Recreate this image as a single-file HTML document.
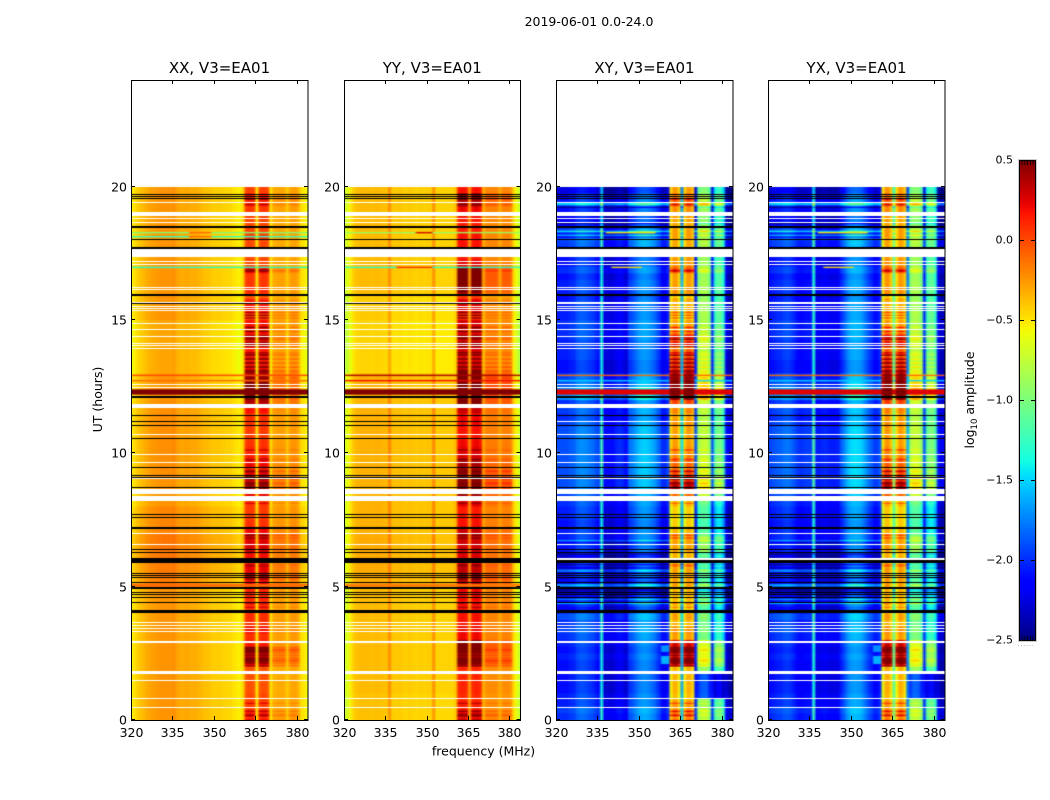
<!DOCTYPE html>
<html>
<head>
<meta charset="utf-8">
<title>2019-06-01 0.0-24.0</title>
<style>
html,body{margin:0;padding:0;background:#fff;}
#figure{position:relative;width:1050px;height:800px;overflow:hidden;background:#fff;font-family:"DejaVu Sans","Liberation Sans",sans-serif;}
canvas{position:absolute;top:80px;height:640px;}
svg{position:absolute;left:0;top:0;}
text{font-family:"DejaVu Sans","Liberation Sans",sans-serif;fill:#000;}
</style>
</head>
<body>
<div id="figure">
<canvas id="c0"></canvas>
<canvas id="c1"></canvas>
<canvas id="c2"></canvas>
<canvas id="c3"></canvas>
<svg id="overlay" width="1050" height="800">
<defs><linearGradient id="jetGrad" x1="0" y1="1" x2="0" y2="0"></linearGradient></defs>
<text x="589" y="26" font-size="12.5" text-anchor="middle">2019-06-01 0.0-24.0</text>
<text x="483.5" y="755.5" font-size="12.5" text-anchor="middle">frequency (MHz)</text>
<text transform="translate(102,399.5) rotate(-90)" font-size="12.5" text-anchor="middle">UT (hours)</text>
<text transform="translate(974,400) rotate(-90)" font-size="12.5" text-anchor="middle">log<tspan font-size="8.5" dy="3">10</tspan><tspan dy="-3"> amplitude</tspan></text>
<text x="1026" y="646" font-size="7" text-anchor="middle" style="fill:#999;letter-spacing:0.6px">......</text>
</svg>
</div>
<script>
/* ---------- axis data ---------- */
const panelTitles = ["XX, V3=EA01","YY, V3=EA01","XY, V3=EA01","YX, V3=EA01"];
const xTicks = [320,335,350,365,380];
const yTicks = [0,5,10,15,20];
const cbarTicks = [-2.5,-2.0,-1.5,-1.0,-0.5,0.0,0.5];
const freqChannels = [320,321,322,323,324,325,326,327,328,329,330,331,332,333,334,335,336,337,338,339,340,341,342,343,344,345,346,347,348,349,350,351,352,353,354,355,356,357,358,359,360,361,362,363,364,365,366,367,368,369,370,371,372,373,374,375,376,377,378,379,380,381,382,383];

/* ---------- per-channel baseline log10 amplitude ---------- */
const baseXX = [-.52,-.48,-.42,-.38,-.36,-.32,-.3,-.28,-.27,-.26,-.25,-.24,-.24,-.24,-.25,-.22,-.28,-.3,-.32,-.3,-.3,-.32,-.32,-.32,-.34,-.36,-.38,-.38,-.4,-.42,-.42,-.42,-.43,-.44,-.45,-.45,-.47,-.5,-.52,-.54,-.45,-.15,-.1,-.1,-.15,-.52,-.15,-.1,-.1,-.15,-.5,-.38,-.36,-.34,-.34,-.36,-.42,-.35,-.32,-.32,-.38,-.48,-.5,-.56];
const baseYY = [-.75,-.65,-.55,-.46,-.42,-.41,-.4,-.4,-.4,-.41,-.41,-.4,-.4,-.41,-.42,-.42,-.25,-.44,-.45,-.45,-.44,-.46,-.47,-.45,-.46,-.47,-.48,-.46,-.47,-.47,-.46,-.47,-.25,-.48,-.48,-.48,-.48,-.48,-.48,-.48,-.42,-.1,-.05,-.05,-.1,-.3,-.1,-.05,-.05,-.1,-.38,-.32,-.3,-.3,-.3,-.32,-.36,-.32,-.3,-.3,-.34,-.5,-.62,-.76];
const baseXY = [-2.0,-2.0,-2.0,-2.0,-1.98,-1.95,-1.95,-1.85,-1.82,-1.8,-1.82,-1.85,-1.88,-1.92,-1.98,-2.02,-1.3,-2.2,-2.2,-2.2,-2.2,-2.15,-2.1,-2.1,-2.15,-2.2,-1.9,-1.85,-1.78,-1.7,-1.65,-1.62,-1.62,-1.65,-1.7,-1.75,-1.85,-1.95,-2.1,-2.1,-2.0,-.65,-.42,-.42,-.62,-1.55,-.62,-.42,-.42,-.58,-2.0,-1.0,-.88,-.86,-.86,-1.05,-2.0,-1.3,-1.15,-1.15,-1.35,-2.15,-2.3,-2.3];
const baseYX = [-2.05,-2.0,-1.98,-1.95,-1.95,-1.9,-1.88,-1.88,-1.92,-1.98,-2.05,-2.08,-2.08,-2.05,-2.05,-2.05,-1.25,-2.15,-2.15,-2.12,-2.1,-2.12,-2.15,-2.15,-2.15,-2.12,-1.95,-1.85,-1.72,-1.62,-1.58,-1.56,-1.58,-1.6,-1.68,-1.78,-1.88,-1.95,-2.05,-2.05,-1.95,-.7,-.4,-.4,-.58,-1.05,-.65,-.42,-.42,-.6,-1.7,-.98,-.85,-.85,-.88,-1.05,-2.0,-1.25,-1.12,-1.12,-1.3,-2.15,-2.3,-2.3];
/* how strongly each channel follows the activity level */
const bandWeight = [0,0,0,0,0,0,0,0,0,0,0,0,0,0,0,0,0,0,0,0,0,0,0,0,0,0,0,0,0,0,0,0,0,0,0,0,0,0,0,0,0,1,1,1,1,.05,1,1,1,1,.05,.35,.35,.35,.35,.35,.05,.35,.35,.35,.35,0,0,0];

/* ---------- activity per quarter-hour bin, 0..20 h ---------- */
const activityXX = [.6,.5,.35,.3,.25,.25,.25,.25,.9,1,1,.55,.45,.6,.45,.45,.4,.45,.5,.5,.5,.75,.55,.4,.45,.6,.55,.55,.55,.35,.3,.3,.4,.65,.9,.9,.85,.7,.6,.5,.45,.4,.35,.35,.4,.4,.55,.8,1,1,.95,.85,.9,.8,.8,.6,.9,.85,.7,.65,.6,.55,.55,.45,.45,.4,.4,.6,.3,.3,.3,.3,.4,.35,.3,.35,.4,.5,.55,.35];
const activityYY = [.7,.55,.4,.35,.35,.35,.35,.35,1,1,1,.9,.5,.5,.45,.45,.45,.45,.5,.5,.6,.8,.6,.45,.5,.55,.55,.6,.6,.4,.4,.35,.5,.75,1,1,1,.9,.7,.55,.5,.45,.4,.4,.45,.45,.6,.85,1,1,1,.9,.95,.85,.8,.7,.85,.85,.75,.7,.65,.6,.65,.55,.85,.9,.95,.9,.55,.4,.45,.45,.45,.4,.4,.45,.5,.7,.85,.45];
const activityCross = [.5,.45,.3,.15,.2,.2,.2,.2,1,1,1,.8,.3,.35,.2,.3,.1,.15,.2,.2,.3,.3,.3,.2,.2,.3,.3,.3,.2,.05,0,0,.2,.5,.95,.85,.75,.6,.5,.4,.35,.3,.3,.3,.35,.3,.4,.6,1,1,1,.9,.85,.8,.7,.5,.75,.7,.4,.3,.25,.25,.25,.3,.35,.3,.3,.5,.35,.3,.25,.25,.3,.3,.25,.3,.35,.5,.45,.3];
/* background level of the cross-hand panels per quarter-hour bin */
const crossLevel = [0,.05,-.05,-.05,-.1,-.1,-.1,-.1,-.1,-.05,-.1,-.05,0,.05,0,.1,-.2,-.1,-.25,-.35,-.2,-.1,-.3,-.1,-.3,-.1,-.2,-.05,-.05,-.1,-.05,-.05,0,.05,.1,.1,.1,.1,.1,.1,.1,.1,.1,.1,.05,0,.05,0,.3,.3,.1,.05,-.1,-.1,-.05,-.05,-.05,0,0,0,-.05,-.05,-.05,-.1,-.05,-.05,-.1,0,-.1,-.1,-.1,.05,-.1,.05,-.15,-.2,-.1,-.05,-.1,-.25];
/* hourly broadband level of the parallel-hand panels */
const levelXX = [0,0,0,0,0,.08,.1,.05,0,.02,.02,.02,0,-.05,-.05,0,0,0,0,0];
const levelYY = [.02,.04,.04,.04,.04,.09,.09,.07,.07,.07,.07,.07,.07,-.04,-.04,-.01,.04,.04,.04,.04];

/* ---------- individual rows (hours) ---------- */
const hotRows = [.15,.3,.6,2.2,2.6,4.2,4.35,5.75,5.8,6.8,6.9,8.1,8.85,9,9.3,9.75,10.1,12.8,13.05,13.2,13.35,13.5,13.65,13.75,14,14.25,14.35,14.55,14.7,15.05,15.15,15.25,16.8,16.85,19.3,19.5];
const calmRows = [.05,.4,2.05,2.35,2.45,13.15,13.3,13.45,13.6,14.2,14.45,14.6,15,15.1,15.2,15.8,15.85,9.4,9.2,8.95];
const crossBright = [19.35,19.3,18.3,18.15,18,5.05,5,6.55,6.7,4.35,4.5,5.6,5.55];
const crossDim = [19.2,18.6,18.45,4.75,4.85,5.3,5.8,6.2];

/* broadband events: start hour, end hour, value in XX, YY, XY, YX */
const rfiStart = [12.19,12.88,12.7,18.22,18.08,16.95,5,12.28];
const rfiEnd   = [12.37,12.94,12.74,18.26,18.12,17,5.1,12.32];
const rfiXX = [.5,0,-.1,-1,-1.3,-1.3,-.1,.5];
const rfiYY = [.5,.4,.2,-.9,null,-1.3,-.15,.5];
const rfiXY = [.25,-.1,-1.5,null,null,null,null,-1];
const rfiYX = [.25,-.1,-1.5,null,null,null,null,-1];

/* local patches: panel, start hour, end hour, first MHz, last MHz, value */
const patchPanel = [2,3,2,3,0,0,1,2,3,2,3,1];
const patchStart = [2.1,2.1,2.55,2.55,18.08,18.22,18.22,18.22,18.22,16.95,16.95,16.95];
const patchEnd   = [2.4,2.4,2.8,2.8,18.12,18.26,18.26,18.27,18.27,17,17,17];
const patchLow   = [358,358,358,358,341,341,346,338,338,340,340,339];
const patchHigh  = [360,360,360,360,348,348,351,355,355,350,350,351];
const patchValue = [-1.6,-1.6,-1.7,-1.7,-.1,-.1,.3,-.5,-.5,-.5,-.5,.1];

/* C/D sub-band drops in cross-hand panels: start, end, offset */
const cdStart = [.8,6.9,3];
const cdEnd = [1.8,8.2,6.1];
const cdDrop = [-.95,-.25,-.2];

/* ---------- flagged rows ---------- */
const blackLines = [19.71,19.65,19.56,18.02,15.62,11.44,11.21,11.05,10.56,9.48,9.19,9.12,8.73,7.71,7.6,6.4,6.3,5.52,5.44,5.35,5.16,4.81,4.72,4.62,4.44,2.97];
const blackBandStart = [18.46,17.67,15.9,12.08,7.17,5.9,4.91,4.03];
const blackBandEnd = [18.54,17.73,15.98,12.16,7.25,6.06,4.99,4.13];
const whiteLines = [19.43,18.81,18.68,17.22,17.1,16.25,16.15,15.68,15.52,15.46,15.37,14.87,14.66,14.4,14.15,14.06,13.94,12.6,12.5,10.71,9.97,9.66,9.06,7,6.59,3.66,3.56,3.46,3.35,1.5,.84,.48];
const whiteBandStart = [18.9,17.35,11.7,8.46,8.22,2.88,1.74];
const whiteBandEnd = [19.06,17.65,11.85,8.66,8.4,2.95,1.84];
const crossWhiteLines = [15.62,11.21,6.08,6.03,2.97];

/* ---------- geometry and scales ---------- */
const axLeft = [131,344,556,768];
const axRight = [308,520.5,733,945];
const axTop = 80, axBottom = 720;
const fMin = 320, fMax = 384, tMin = 0, tMax = 24;
const vMin = -2.5, vMax = 0.5;
const dataEndHour = 20, rowStep = 0.05, binStep = 0.25;
function xScale(p,f){return axLeft[p]+(f-fMin)/(fMax-fMin)*(axRight[p]-axLeft[p]);}
function yScale(t){return axBottom-(t-tMin)/(tMax-tMin)*(axBottom-axTop);}
function cbScale(v){return 640-(v-vMin)/(vMax-vMin)*480;}

function jet(n){
  n=Math.max(0,Math.min(1,n));
  function ramp(pts){for(let i=1;i<pts.length;i++){if(n<=pts[i][0]){const a=pts[i-1],b=pts[i];return a[1]+(b[1]-a[1])*(n-a[0])/(b[0]-a[0]);}}return pts[pts.length-1][1];}
  const r=ramp([[0,0],[.35,0],[.66,1],[.89,1],[1,.5]]);
  const g=ramp([[0,0],[.125,0],[.375,1],[.64,1],[.91,0],[1,0]]);
  const b=ramp([[0,.5],[.11,1],[.34,1],[.65,0],[1,0]]);
  return 'rgb('+Math.round(r*255)+','+Math.round(g*255)+','+Math.round(b*255)+')';
}
function near(list,t){for(let i=0;i<list.length;i++){if(Math.abs(list[i]-t)<rowStep/2+1e-6)return true;}return false;}

const bases=[baseXX,baseYY,baseXY,baseYX];
const rfiSets=[rfiXX,rfiYY,rfiXY,rfiYX];

function cellValue(p,t,c){
  const bin=Math.min(Math.floor(t/binStep),79);
  const hour=Math.min(Math.floor(t),19);
  const w=bandWeight[c], f=freqChannels[c];
  for(let k=0;k<patchPanel.length;k++){
    if(patchPanel[k]===p&&t>=patchStart[k]&&t<patchEnd[k]&&f>=patchLow[k]&&f<=patchHigh[k])return patchValue[k];
  }
  for(let k=0;k<rfiStart.length;k++){
    if(t>=rfiStart[k]&&t<rfiEnd[k]&&rfiSets[p][k]!==null){
      const rv=rfiSets[p][k];
      return (p>=2&&w>=.9)?Math.max(rv,.5):rv;
    }
  }
  let v=bases[p][c], act;
  if(p<2){
    act=(p===0?activityXX:activityYY)[bin];
    if(near(hotRows,t))act+=.3;
    if(near(calmRows,t))act-=.25;
    v+=(p===0?levelXX:levelYY)[hour]+Math.pow(Math.max(act,0),1.5)*w*.65;
  }else{
    act=activityCross[bin];
    if(near(hotRows,t))act+=.3;
    if(near(calmRows,t))act-=.2;
    let lv=crossLevel[bin];
    if(near(crossBright,t))lv+=.5;
    if(near(crossDim,t))lv-=.4;
    v+=lv*(1-w)+Math.pow(Math.max(act,0),1.5)*w*1.0;
    if(w>.1&&w<.9){
      for(let k=0;k<cdStart.length;k++){if(t>=cdStart[k]&&t<cdEnd[k])v+=cdDrop[k];}
    }
  }
  return v;
}

function drawPanel(p){
  const cv=document.getElementById('c'+p);
  const W=Math.round(axRight[p]-axLeft[p]);
  cv.width=W;cv.height=640;
  cv.style.left=axLeft[p]+'px';
  cv.style.width=W+'px';
  const ctx=cv.getContext('2d');
  ctx.fillStyle='#fff';ctx.fillRect(0,0,W,640);
  const rows=Math.round(dataEndHour/rowStep);
  const cols=freqChannels.length;
  /* one offscreen pixel per time-frequency cell, resampled smoothly onto the axes */
  const off=document.createElement('canvas');
  off.width=cols;off.height=rows;
  const oc=off.getContext('2d');
  for(let r=0;r<rows;r++){
    const t=r*rowStep;
    for(let c=0;c<cols;c++){
      oc.fillStyle=jet((cellValue(p,t,c)-vMin)/(vMax-vMin));
      oc.fillRect(c,rows-1-r,1,1);
    }
  }
  ctx.imageSmoothingEnabled=true;
  const x0=xScale(p,fMin)-axLeft[p];
  const x1=xScale(p,fMax)-axLeft[p];
  const yT=yScale(dataEndHour)-axTop;
  const yB=yScale(0)-axTop;
  ctx.drawImage(off,0,0,cols,rows,x0,yT,x1-x0,yB-yT);
  function band(a,b,col){
    const ya=Math.round(yScale(b))-axTop, yb=Math.round(yScale(a))-axTop;
    ctx.fillStyle=col;ctx.fillRect(0,ya,W,Math.max(yb-ya,1));
  }
  function line(t,col){
    ctx.fillStyle=col;ctx.fillRect(0,Math.round(yScale(t))-axTop,W,1);
  }
  blackLines.forEach(t=>line(t,'#000'));
  blackBandStart.forEach((s,i)=>band(s,blackBandEnd[i],'#000'));
  whiteLines.forEach(t=>line(t,'#fff'));
  whiteBandStart.forEach((s,i)=>band(s,whiteBandEnd[i],'#fff'));
  if(p>=2)crossWhiteLines.forEach(t=>line(t,'#fff'));
}

/* ---------- vector overlay ---------- */
const NS='http://www.w3.org/2000/svg';
const svg=document.getElementById('overlay');
function mk(tag,parent){const e=document.createElementNS(NS,tag);(parent||svg).appendChild(e);return e;}
function setAll(e,o){for(const k in o)e.setAttribute(k,o[k]);}

function drawAxes(p){
  const L=axLeft[p],R=axRight[p];
  const frame=mk('rect');
  setAll(frame,{x:L+.5,y:axTop+.5,width:R-L-.5,height:axBottom-axTop,fill:'none',stroke:'#000','stroke-width':1});
  
  

  const title=mk('text');
  setAll(title,{x:(L+R)/2,y:73,'font-size':15,'text-anchor':'middle'});
  title.textContent=panelTitles[p];
  
  

  xTicks.forEach(f=>{
    const x=Math.round(xScale(p,f))+.5;
    const tb=mk('line');
    setAll(tb,{x1:x,x2:x,y1:axBottom,y2:axBottom-4,stroke:'#000','stroke-width':1});
    
    
    const tt=mk('line');
    setAll(tt,{x1:x,x2:x,y1:axTop,y2:axTop+4,stroke:'#000','stroke-width':1});
    
    
    const lb=mk('text');
    setAll(lb,{x:x,y:737,'font-size':12.5,'text-anchor':'middle'});
    lb.textContent=f;
    
    
  });
  yTicks.forEach(t=>{
    const y=Math.round(yScale(t))-.5;
    const tl=mk('line');
    setAll(tl,{x1:L,x2:L+4,y1:y,y2:y,stroke:'#000','stroke-width':1});
    
    
    const tr=mk('line');
    setAll(tr,{x1:R,x2:R-4,y1:y,y2:y,stroke:'#000','stroke-width':1});
    
    
    const lb=mk('text');
    setAll(lb,{x:L-4,y:y+5,'font-size':12.5,'text-anchor':'end'});
    lb.textContent=t;
    
    
  });
}

function drawColorbar(){
  const grad=document.getElementById('jetGrad');
  for(let i=0;i<=64;i++){
    const s=document.createElementNS(NS,'stop');
    s.setAttribute('offset',(i/64*100)+'%');
    s.setAttribute('stop-color',jet(i/64));
    grad.appendChild(s);
  }
  const halo=mk('rect');
  setAll(halo,{x:1018.5,y:159.5,width:18,height:482,fill:'none',stroke:'#ccc','stroke-width':1});
  
  
  const bar=mk('rect');
  setAll(bar,{x:1019.5,y:160.5,width:16,height:480,fill:'url(#jetGrad)',stroke:'#000','stroke-width':1});
  
  
  cbarTicks.forEach(v=>{
    const y=Math.round(cbScale(v))+.5;
    const a=mk('line');
    setAll(a,{x1:1020,x2:1024,y1:y,y2:y,stroke:'#000','stroke-width':1});
    
    
    const b=mk('line');
    setAll(b,{x1:1031,x2:1035,y1:y,y2:y,stroke:'#000','stroke-width':1});
    
    
    const lb=mk('text');
    setAll(lb,{x:1013,y:y+3,'font-size':11,'text-anchor':'end'});
    lb.textContent=(v<0?'\u2212':'')+Math.abs(v).toFixed(1);
    
    
  });
  for(let i=1;i<=5;i++){
    const x=1019.5+i*2.7;
    const top=mk('line');
    setAll(top,{x1:x,x2:x,y1:161,y2:165,stroke:'#000','stroke-width':.8});
    
    
    const bot=mk('line');
    setAll(bot,{x1:x,x2:x,y1:636,y2:640,stroke:'#000','stroke-width':.8});
    
    
  }
}

for(let p=0;p<4;p++){drawPanel(p);drawAxes(p);}
drawColorbar();
</script>
</body>
</html>
